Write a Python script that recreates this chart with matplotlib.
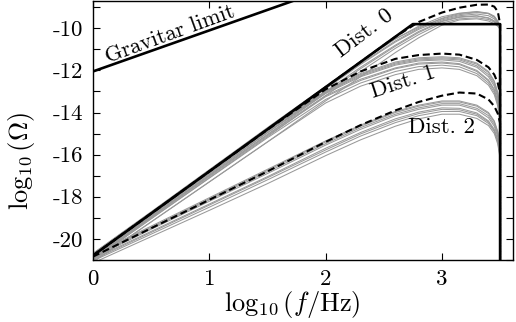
import matplotlib
matplotlib.use("Agg")
import matplotlib.pyplot as plt

plt.rcParams['font.family'] = ['cmr10']
plt.rcParams['mathtext.fontset'] = 'cm'
plt.rcParams['axes.unicode_minus'] = False

# common frequency nodes, log10(f/Hz)
x_nodes = [0, 0.5, 1.0, 1.5, 2.0, 2.3, 2.6, 2.8, 3.0, 3.15, 3.3, 3.4, 3.45, 3.48, 3.5]
x_end = 3.5
y_floor = -21.5

# Gravitar limit
grav_x = [0, 2.0]
grav_y = [-12.05, -8.15]

# Dist. 0 solid envelope
solid_x = [0, 2.75, 3.5, 3.5]
solid_y = [-20.8, -9.8, -9.8, -21.5]

# dashed reference curves
dash0 = [-20.8, -18.8, -16.8, -14.8, -12.8, -11.6, -10.4, -9.7, -9.25, -9.02, -8.88, -8.87, -8.97, -9.2, -9.8]
dash1 = [-20.8, -18.8, -16.8, -14.82, -12.9, -12.05, -11.45, -11.27, -11.2, -11.25, -11.5, -11.85, -12.2, -12.6, -13.1]
dash2 = [-20.85, -19.5, -18.15, -16.8, -15.4, -14.6, -13.9, -13.5, -13.2, -13.05, -13.1, -13.38, -13.7, -14.05, -14.5]

# grey sample curves
grey0 = [
    [-20.75, -18.75, -16.75, -14.75, -12.78, -11.6, -10.5, -9.95, -9.55, -9.35, -9.25, -9.3, -9.45, -9.7, -10.0],
    [-20.85, -18.85, -16.85, -14.85, -12.88, -11.72, -10.65, -10.05, -9.6, -9.4, -9.32, -9.4, -9.55, -9.75, -10.0],
    [-20.9, -18.92, -16.95, -14.97, -13.0, -11.85, -10.8, -10.15, -9.65, -9.45, -9.4, -9.5, -9.65, -9.8, -10.0],
    [-21.0, -19.05, -17.1, -15.15, -13.2, -12.05, -10.95, -10.3, -9.75, -9.55, -9.5, -9.58, -9.7, -9.85, -10.05],
    [-20.8, -18.82, -16.82, -14.83, -12.85, -11.68, -10.6, -10.0, -9.52, -9.3, -9.22, -9.3, -9.48, -9.7, -10.0],
    [-21.1, -19.2, -17.3, -15.4, -13.45, -12.3, -11.15, -10.45, -9.85, -9.6, -9.55, -9.65, -9.78, -9.9, -10.05],
    [-20.95, -18.98, -17.0, -15.05, -13.08, -11.92, -10.85, -10.2, -9.68, -9.48, -9.42, -9.52, -9.65, -9.82, -10.0],
    [-20.7, -18.72, -16.72, -14.72, -12.75, -11.58, -10.5, -9.9, -9.45, -9.28, -9.2, -9.28, -9.42, -9.65, -9.95],
]
grey1 = [
    [-20.75, -18.78, -16.8, -14.85, -13.0, -12.2, -11.65, -11.45, -11.4, -11.45, -11.7, -12.1, -12.55, -13.1, -14.0],
    [-20.85, -18.88, -16.9, -14.95, -13.1, -12.3, -11.75, -11.55, -11.5, -11.57, -11.85, -12.3, -12.75, -13.3, -14.2],
    [-20.9, -18.95, -17.0, -15.05, -13.2, -12.42, -11.88, -11.65, -11.6, -11.68, -12.0, -12.45, -12.9, -13.45, -14.3],
    [-21.0, -19.05, -17.12, -15.2, -13.38, -12.6, -12.05, -11.82, -11.75, -11.83, -12.15, -12.6, -13.05, -13.6, -14.4],
    [-20.8, -18.82, -16.85, -14.9, -13.05, -12.25, -11.7, -11.5, -11.45, -11.5, -11.78, -12.2, -12.65, -13.2, -14.1],
    [-21.1, -19.2, -17.3, -15.4, -13.55, -12.75, -12.2, -11.95, -11.88, -11.95, -12.25, -12.7, -13.15, -13.7, -14.5],
    [-20.95, -19.0, -17.05, -15.1, -13.25, -12.48, -11.92, -11.7, -11.65, -11.72, -12.05, -12.5, -12.95, -13.5, -14.3],
    [-20.7, -18.75, -16.78, -14.8, -12.98, -12.15, -11.6, -11.4, -11.35, -11.4, -11.65, -12.05, -12.5, -13.05, -13.9],
]
grey2 = [
    [-20.8, -19.45, -18.1, -16.75, -15.4, -14.65, -14.0, -13.7, -13.5, -13.5, -13.7, -14.05, -14.45, -14.95, -15.7],
    [-20.9, -19.55, -18.22, -16.9, -15.55, -14.8, -14.15, -13.85, -13.65, -13.65, -13.88, -14.25, -14.65, -15.15, -15.85],
    [-20.95, -19.65, -18.35, -17.05, -15.7, -14.95, -14.3, -13.98, -13.78, -13.8, -14.02, -14.4, -14.8, -15.3, -16.0],
    [-21.05, -19.78, -18.5, -17.2, -15.88, -15.12, -14.48, -14.15, -13.95, -13.95, -14.15, -14.52, -14.9, -15.4, -16.1],
    [-20.85, -19.5, -18.15, -16.82, -15.48, -14.72, -14.08, -13.78, -13.58, -13.58, -13.8, -14.15, -14.55, -15.05, -15.8],
    [-21.15, -19.9, -18.65, -17.38, -16.05, -15.3, -14.65, -14.3, -14.08, -14.08, -14.28, -14.62, -15.0, -15.5, -16.2],
    [-20.75, -19.4, -18.05, -16.7, -15.35, -14.6, -13.95, -13.65, -13.45, -13.45, -13.65, -14.0, -14.4, -14.9, -15.6],
    [-21.0, -19.7, -18.4, -17.1, -15.78, -15.02, -14.38, -14.05, -13.85, -13.87, -14.08, -14.45, -14.85, -15.35, -16.05],
]

x_ticks = [0, 1, 2, 3]
y_ticks = [-21, -20, -19, -18, -17, -16, -15, -14, -13, -12, -11, -10, -9]
y_ticklabels = ['', '-20', '', '-18', '', '-16', '', '-14', '', '-12', '', '-10', '']

fig = plt.figure(figsize=(5.16, 3.22), dpi=100)
ax = fig.add_axes([0.180, 0.193, 0.814, 0.804])

xs = x_nodes + [x_end]
for group in (grey0, grey1, grey2):
    for g in group:
        ax.plot(xs, g + [y_floor], color='#999999', lw=0.75, zorder=2)

ax.plot(solid_x, solid_y, color='black', lw=1.9, zorder=4)
for d in (dash0, dash1, dash2):
    ax.plot(xs, d + [y_floor], color='black', lw=1.5, ls=(0, (3.4, 1.8)), zorder=5)
ax.plot(grav_x, grav_y, color='black', lw=1.9, zorder=4)

fs = 16.5
ax.text(0.13, -11.66, r'Gravitar limit', fontsize=16, rotation=20,
        rotation_mode='anchor', ha='left', va='baseline')
ax.text(2.13, -11.4, r'Dist. 0', fontsize=fs, rotation=37,
        rotation_mode='anchor', ha='left', va='baseline')
ax.text(2.41, -13.3, r'Dist. 1', fontsize=fs, rotation=18,
        rotation_mode='anchor', ha='left', va='baseline')
ax.text(2.71, -14.95, r'Dist. 2', fontsize=fs, rotation=0,
        ha='left', va='baseline')

ax.set_xlim(0, 3.61)
ax.set_ylim(-21.0, -8.7)
ax.set_xticks(x_ticks)
ax.set_xticklabels([str(v) for v in x_ticks])
ax.set_yticks(y_ticks)
ax.set_yticklabels(y_ticklabels)
ax.tick_params(direction='in', length=5, width=0.8, top=True, right=True,
               labelsize=fs, pad=7)
for s in ax.spines.values():
    s.set_linewidth(1.0)

ax.set_xlabel(r'$\log_{10}(f/\mathrm{Hz})$', fontsize=19)
ax.set_ylabel(r'$\log_{10}(\Omega)$', fontsize=19)
ax.xaxis.set_label_coords(0.474, -0.112)
ax.yaxis.set_label_coords(-0.133, 0.38)

fig.savefig('out.png', dpi=100)
